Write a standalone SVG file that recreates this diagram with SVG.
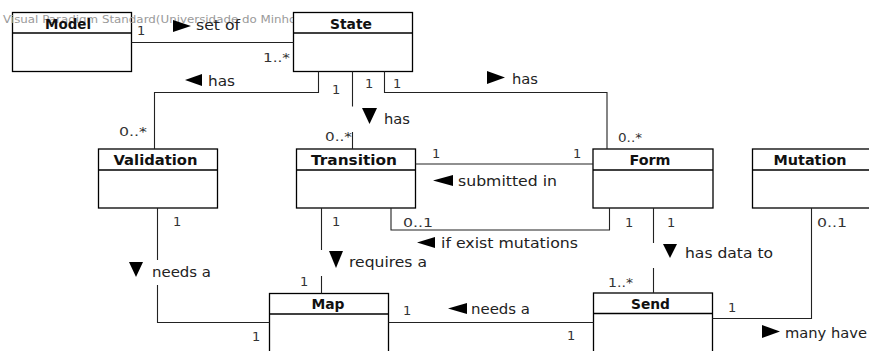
<svg xmlns="http://www.w3.org/2000/svg" width="869" height="351" viewBox="0 0 869 351">
  <style>
    .box { fill: #fff; stroke: #000; stroke-width: 1.3; }
    .open { fill: none; stroke: #000; stroke-width: 1.3; }
    .div { stroke: #000; stroke-width: 1.3; }
    .title { font-family: "DejaVu Sans", "Liberation Sans", sans-serif; font-size: 14.5px; font-weight: bold; fill: #111; text-anchor: middle; }
    .wire { fill: none; stroke: #222; stroke-width: 1.1; }
    .lbl { font-family: "DejaVu Sans", "Liberation Sans", sans-serif; font-size: 14px; fill: #222; }
    .mult { font-family: "DejaVu Sans", "Liberation Sans", sans-serif; font-size: 13px; fill: #333; }
    .tri { fill: #000; }
    .wm { font-family: "DejaVu Sans", "Liberation Sans", sans-serif; font-size: 10.5px; fill: #9a9a9a; }
  </style>
  <rect width="869" height="351" fill="#fff"/>

  <!-- classes -->
  <g id="model">
    <rect class="open" x="12.5" y="12.5" width="119" height="59"/>
    <line class="div" x1="12.5" y1="33" x2="131.5" y2="33"/>
  </g>
  <text class="wm" x="3" y="22.5" textLength="298" lengthAdjust="spacingAndGlyphs">Visual Paradigm Standard(Universidade do Minho)</text>
  <text class="title" x="68" y="29" textLength="46" lengthAdjust="spacingAndGlyphs">Model</text>

  <g id="state">
    <rect class="box" x="293.5" y="12.5" width="119" height="59"/>
    <line class="div" x1="293.5" y1="33" x2="412.5" y2="33"/>
    <text class="title" x="351" y="29" textLength="42" lengthAdjust="spacingAndGlyphs">State</text>
  </g>

  <g id="validation">
    <rect class="box" x="98.5" y="149" width="119" height="59"/>
    <line class="div" x1="98.5" y1="170" x2="217.5" y2="170"/>
    <text class="title" x="155.5" y="165" textLength="84" lengthAdjust="spacingAndGlyphs">Validation</text>
  </g>

  <g id="transition">
    <rect class="box" x="296.5" y="149" width="119" height="59"/>
    <line class="div" x1="296.5" y1="170" x2="415.5" y2="170"/>
    <text class="title" x="354" y="165" textLength="86" lengthAdjust="spacingAndGlyphs">Transition</text>
  </g>

  <g id="form">
    <rect class="box" x="593" y="149" width="120" height="59"/>
    <line class="div" x1="593" y1="170" x2="713" y2="170"/>
    <text class="title" x="650" y="165" textLength="41" lengthAdjust="spacingAndGlyphs">Form</text>
  </g>

  <g id="mutation">
    <rect class="box" x="752.5" y="149" width="120" height="59"/>
    <line class="div" x1="752.5" y1="170" x2="872.5" y2="170"/>
    <text class="title" x="810" y="165" textLength="73" lengthAdjust="spacingAndGlyphs">Mutation</text>
  </g>

  <g id="map">
    <rect class="box" x="269.5" y="293.5" width="119" height="70"/>
    <line class="div" x1="269.5" y1="314" x2="388.5" y2="314"/>
    <text class="title" x="328" y="309" textLength="33" lengthAdjust="spacingAndGlyphs">Map</text>
  </g>

  <g id="send">
    <rect class="box" x="593.5" y="293" width="119" height="70"/>
    <line class="div" x1="593.5" y1="313.5" x2="712.5" y2="313.5"/>
    <text class="title" x="650.5" y="309" textLength="39" lengthAdjust="spacingAndGlyphs">Send</text>
  </g>

  <!-- associations -->
  <g id="connectors">
    <path class="wire" d="M131.5 42.5 H293.5"/>
    <path class="wire" d="M318.5 71.5 V92.5 H154.5 V149"/>
    <path class="wire" d="M352.5 71.5 V106.5 M352.5 132 V149"/>
    <path class="wire" d="M384.5 71.5 V92.5 H607 V149"/>
    <path class="wire" d="M415.5 164 H593"/>
    <path class="wire" d="M391 208 V230 H609.5 V208"/>
    <path class="wire" d="M653.5 208 V243 M653.5 268 V293"/>
    <path class="wire" d="M811.5 208 V318.5 H712.5"/>
    <path class="wire" d="M157.5 208 V260 M157.5 285 V322.5 H269.5"/>
    <path class="wire" d="M321.5 208 V250 M321.5 276 V293.5"/>
    <path class="wire" d="M388.5 322.5 H593.5"/>

    <!-- Model / State -->
    <text class="mult" x="137" y="35">1</text>
    <polygon class="tri" points="173,20 191,26 173,32"/>
    <text class="lbl" x="196" y="30" textLength="44" lengthAdjust="spacingAndGlyphs">set of</text>
    <text class="mult" x="263" y="62" textLength="27" lengthAdjust="spacingAndGlyphs">1..*</text>

    <!-- State / Validation -->
    <polygon class="tri" points="202,74 185,80 202,86"/>
    <text class="lbl" x="208" y="86" textLength="27" lengthAdjust="spacingAndGlyphs">has</text>
    <text class="mult" x="332" y="94">1</text>
    <text class="mult" x="119" y="136" textLength="28" lengthAdjust="spacingAndGlyphs">0..*</text>

    <!-- State / Transition -->
    <text class="mult" x="365" y="88">1</text>
    <polygon class="tri" points="362,108 377,108 369.5,124"/>
    <text class="lbl" x="384" y="124" textLength="26" lengthAdjust="spacingAndGlyphs">has</text>
    <text class="mult" x="325" y="141" textLength="27" lengthAdjust="spacingAndGlyphs">0..*</text>

    <!-- State / Form -->
    <text class="mult" x="393" y="88">1</text>
    <polygon class="tri" points="487,71 505,77.5 487,84"/>
    <text class="lbl" x="512" y="84" textLength="26" lengthAdjust="spacingAndGlyphs">has</text>
    <text class="mult" x="618" y="142" textLength="24" lengthAdjust="spacingAndGlyphs">0..*</text>

    <!-- Transition / Form -->
    <text class="mult" x="432" y="158">1</text>
    <text class="mult" x="573" y="158">1</text>
    <polygon class="tri" points="453,175 433,180.5 453,186"/>
    <text class="lbl" x="458" y="186" textLength="99" lengthAdjust="spacingAndGlyphs">submitted in</text>

    <text class="mult" x="403" y="227" textLength="30" lengthAdjust="spacingAndGlyphs">0..1</text>
    <text class="mult" x="625" y="227">1</text>
    <polygon class="tri" points="435,237 417,242.5 435,248"/>
    <text class="lbl" x="441" y="248" textLength="137" lengthAdjust="spacingAndGlyphs">if exist mutations</text>

    <!-- Form / Send -->
    <text class="mult" x="667" y="227">1</text>
    <polygon class="tri" points="663,244 677,244 670,258"/>
    <text class="lbl" x="685" y="258" textLength="88" lengthAdjust="spacingAndGlyphs">has data to</text>
    <text class="mult" x="608" y="287" textLength="25" lengthAdjust="spacingAndGlyphs">1..*</text>

    <!-- Mutation / Send -->
    <text class="mult" x="817" y="227" textLength="30" lengthAdjust="spacingAndGlyphs">0..1</text>
    <text class="mult" x="728" y="312">1</text>
    <polygon class="tri" points="762,325 780,331.5 762,338"/>
    <text class="lbl" x="785" y="338" textLength="82" lengthAdjust="spacingAndGlyphs">many have</text>

    <!-- Validation / Map -->
    <text class="mult" x="173" y="226">1</text>
    <polygon class="tri" points="129,262 143,262 136,277"/>
    <text class="lbl" x="152" y="277" textLength="59" lengthAdjust="spacingAndGlyphs">needs a</text>
    <text class="mult" x="252" y="341">1</text>

    <!-- Transition / Map -->
    <text class="mult" x="332" y="226">1</text>
    <polygon class="tri" points="329,251 343,251 336,268"/>
    <text class="lbl" x="349" y="267" textLength="78" lengthAdjust="spacingAndGlyphs">requires a</text>
    <text class="mult" x="300" y="286">1</text>

    <!-- Map / Send -->
    <text class="mult" x="403" y="315">1</text>
    <polygon class="tri" points="467,303 448,308.5 467,314"/>
    <text class="lbl" x="471" y="314" textLength="59" lengthAdjust="spacingAndGlyphs">needs a</text>
    <text class="mult" x="567" y="340">1</text>
  </g>
</svg>
